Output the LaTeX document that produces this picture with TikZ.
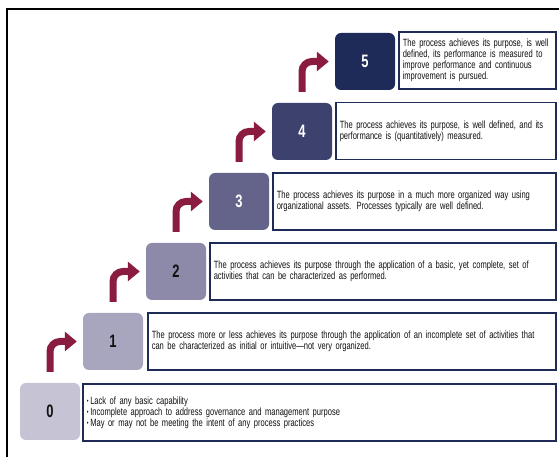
\documentclass[tikz,border=0pt]{standalone}
\usepackage{fontspec}
\setmainfont{Liberation Sans}[FakeStretch=0.72]
\usetikzlibrary{arrows.meta}
\definecolor{sqA}{HTML}{C5C3D4}
\definecolor{sqB}{HTML}{A8A6BE}
\definecolor{sqC}{HTML}{8C8AA8}
\definecolor{sqD}{HTML}{64648A}
\definecolor{sqE}{HTML}{3D416D}
\definecolor{sqF}{HTML}{1E2B58}
\definecolor{maroon}{HTML}{8A1C3F}
\definecolor{navy}{HTML}{1E2B58}
\definecolor{txt}{HTML}{111111}
\newcommand{\bul}{{\fontsize{7}{7}\selectfont\raisebox{0.3pt}{•}}\,}
\tikzset{
  lvl/.style={rounded corners=6pt, minimum width=60pt, minimum height=57pt, inner sep=0pt,
    font=\fontsize{18}{18}\selectfont\bfseries},
  desc/.style={draw=navy, line width=1.5pt, anchor=west, minimum height=57pt, inner xsep=4pt,
    align=left, text=txt, font=\fontsize{10.5}{11}\selectfont},
  uparrow/.style={draw=maroon, line width=7pt, rounded corners=10pt,
    -{Triangle[length=12pt,width=19pt]}},
}
\begin{document}
\begin{tikzpicture}[x=1pt,y=1pt]
\useasboundingbox (0,0) rectangle (559,457);
\fill[white] (0,0) rectangle (559,457);
\draw[black, line width=1.3pt] (7,-2) -- (7,448) -- (561,448);
% level squares
\node[lvl, fill=sqA, text=txt]   (s0) at (50,45.5) {0};
\node[lvl, fill=sqB, text=txt]   (s1) at (113,115.5) {1};
\node[lvl, fill=sqC, text=txt]   (s2) at (176,185.5) {2};
\node[lvl, fill=sqD, text=white] (s3) at (239,255.5) {3};
\node[lvl, fill=sqE, text=white] (s4) at (302,325.5) {4};
\node[lvl, fill=sqF, text=white] (s5) at (365,395.5) {5};
% descriptions
\node[desc, text width=465pt] (d0) at (82,44.5) {\bul Lack of any basic capability\\\bul Incomplete approach to address governance and management purpose\\\bul May or may not be meeting the intent of any process practices};
\node[desc, text width=400pt] (d1) at (147,115.5) {The process more or less achieves its purpose through the application of an incomplete set of activities that\\can be characterized as initial or intuitive\textemdash not very organized.};
\node[desc, text width=338pt] (d2) at (209,185.5) {The process achieves its purpose through the application of a basic, yet complete, set of\\activities that can be characterized as performed.};
\node[desc, text width=275pt] (d3) at (272,255.5) {The process achieves its purpose in a much more organized way using\\organizational assets. Processes typically are well defined.};
\node[desc, text width=212pt] (d4) at (335,326) {The process achieves its purpose, is well defined, and its\\performance is (quantitatively) measured.};
\node[desc, text width=149pt] (d5) at (398,396.5) {The process achieves its purpose, is well\\defined, its performance is measured to\\improve performance and continuous\\improvement is pursued.};
% arrows
\draw[uparrow] ([yshift=11pt]s0.north) |- ([xshift=-6pt]s1.west);
\draw[uparrow] ([yshift=11pt]s1.north) |- ([xshift=-6pt]s2.west);
\draw[uparrow] ([yshift=11pt]s2.north) |- ([xshift=-6pt]s3.west);
\draw[uparrow] ([yshift=11pt]s3.north) |- ([xshift=-6pt]s4.west);
\draw[uparrow] ([yshift=11pt]s4.north) |- ([xshift=-6pt]s5.west);
\end{tikzpicture}
\end{document}
